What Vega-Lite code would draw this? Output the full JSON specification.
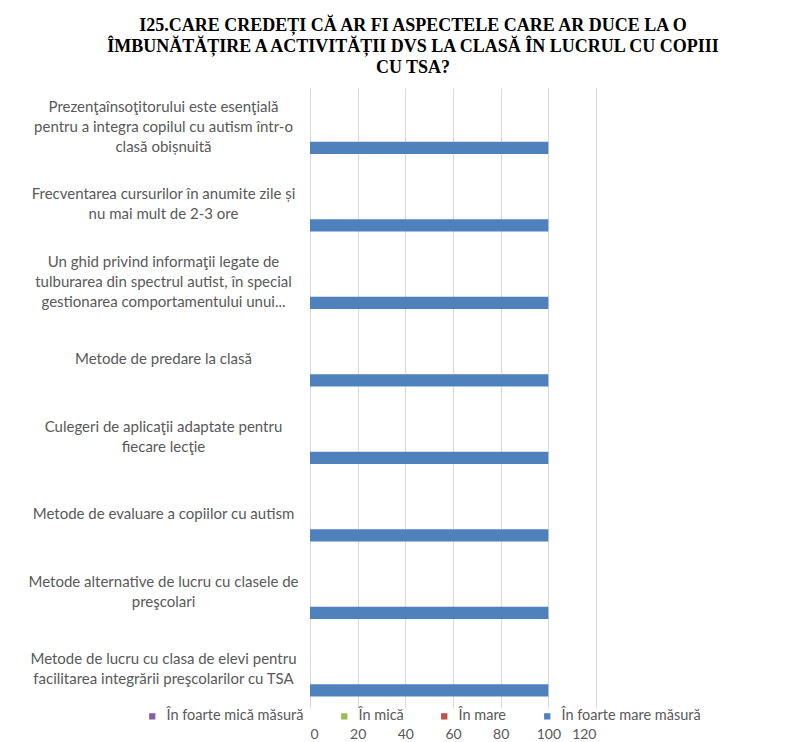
{
  "$schema": "https://vega.github.io/schema/vega-lite/v6.json",
  "width": 286,
  "height": 620,
  "autosize": {"type": "none"},
  "padding": {"left": 310, "top": 88, "right": 202, "bottom": 34},
  "background": "white",
  "title": {
    "text": ["I25.CARE CREDEȚI CĂ AR FI ASPECTELE CARE AR DUCE LA O", "ÎMBUNĂTĂȚIRE A ACTIVITĂȚII DVS LA CLASĂ ÎN LUCRUL CU COPIII", "CU TSA?"],
    "font": "Liberation Serif",
    "fontSize": 18,
    "fontWeight": "bold",
    "color": "#000000",
    "lineHeight": 21,
    "anchor": "middle",
    "frame": "group",
    "dx": -40,
    "offset": 11
  },
  "data": {
    "values": [
      {"aspect": "Prezenţaînsoţitorului este esenţială|pentru a integra  copilul cu autism într-o|clasă obișnuită", "series": "În foarte mică măsură", "value": 0},
      {"aspect": "Prezenţaînsoţitorului este esenţială|pentru a integra  copilul cu autism într-o|clasă obișnuită", "series": "În mică", "value": 0},
      {"aspect": "Prezenţaînsoţitorului este esenţială|pentru a integra  copilul cu autism într-o|clasă obișnuită", "series": "În mare", "value": 0},
      {"aspect": "Prezenţaînsoţitorului este esenţială|pentru a integra  copilul cu autism într-o|clasă obișnuită", "series": "În foarte mare măsură", "value": 100},
      {"aspect": "Frecventarea cursurilor în anumite zile și|nu mai mult de 2-3 ore", "series": "În foarte mică măsură", "value": 0},
      {"aspect": "Frecventarea cursurilor în anumite zile și|nu mai mult de 2-3 ore", "series": "În mică", "value": 0},
      {"aspect": "Frecventarea cursurilor în anumite zile și|nu mai mult de 2-3 ore", "series": "În mare", "value": 0},
      {"aspect": "Frecventarea cursurilor în anumite zile și|nu mai mult de 2-3 ore", "series": "În foarte mare măsură", "value": 100},
      {"aspect": "Un ghid privind informaţii legate de|tulburarea din spectrul autist, în special|gestionarea comportamentului unui...", "series": "În foarte mică măsură", "value": 0},
      {"aspect": "Un ghid privind informaţii legate de|tulburarea din spectrul autist, în special|gestionarea comportamentului unui...", "series": "În mică", "value": 0},
      {"aspect": "Un ghid privind informaţii legate de|tulburarea din spectrul autist, în special|gestionarea comportamentului unui...", "series": "În mare", "value": 0},
      {"aspect": "Un ghid privind informaţii legate de|tulburarea din spectrul autist, în special|gestionarea comportamentului unui...", "series": "În foarte mare măsură", "value": 100},
      {"aspect": "Metode de predare la clasă", "series": "În foarte mică măsură", "value": 0},
      {"aspect": "Metode de predare la clasă", "series": "În mică", "value": 0},
      {"aspect": "Metode de predare la clasă", "series": "În mare", "value": 0},
      {"aspect": "Metode de predare la clasă", "series": "În foarte mare măsură", "value": 100},
      {"aspect": "Culegeri de aplicaţii adaptate pentru|fiecare lecţie", "series": "În foarte mică măsură", "value": 0},
      {"aspect": "Culegeri de aplicaţii adaptate pentru|fiecare lecţie", "series": "În mică", "value": 0},
      {"aspect": "Culegeri de aplicaţii adaptate pentru|fiecare lecţie", "series": "În mare", "value": 0},
      {"aspect": "Culegeri de aplicaţii adaptate pentru|fiecare lecţie", "series": "În foarte mare măsură", "value": 100},
      {"aspect": "Metode de evaluare a copiilor cu autism", "series": "În foarte mică măsură", "value": 0},
      {"aspect": "Metode de evaluare a copiilor cu autism", "series": "În mică", "value": 0},
      {"aspect": "Metode de evaluare a copiilor cu autism", "series": "În mare", "value": 0},
      {"aspect": "Metode de evaluare a copiilor cu autism", "series": "În foarte mare măsură", "value": 100},
      {"aspect": "Metode alternative de lucru cu clasele de|preşcolari", "series": "În foarte mică măsură", "value": 0},
      {"aspect": "Metode alternative de lucru cu clasele de|preşcolari", "series": "În mică", "value": 0},
      {"aspect": "Metode alternative de lucru cu clasele de|preşcolari", "series": "În mare", "value": 0},
      {"aspect": "Metode alternative de lucru cu clasele de|preşcolari", "series": "În foarte mare măsură", "value": 100},
      {"aspect": "Metode de lucru cu clasa de elevi pentru|facilitarea integrării preşcolarilor cu TSA", "series": "În foarte mică măsură", "value": 0},
      {"aspect": "Metode de lucru cu clasa de elevi pentru|facilitarea integrării preşcolarilor cu TSA", "series": "În mică", "value": 0},
      {"aspect": "Metode de lucru cu clasa de elevi pentru|facilitarea integrării preşcolarilor cu TSA", "series": "În mare", "value": 0},
      {"aspect": "Metode de lucru cu clasa de elevi pentru|facilitarea integrării preşcolarilor cu TSA", "series": "În foarte mare măsură", "value": 100}
    ]
  },
  "mark": {"type": "bar"},
  "encoding": {
    "y": {
      "field": "aspect",
      "type": "nominal",
      "sort": null,
      "scale": {"paddingInner": 0.3, "paddingOuter": 0.15},
      "axis": {
        "title": null,
        "domain": false,
        "ticks": false,
        "labelExpr": "split(datum.value, '|')",
        "labelAlign": "center",
        "labelBaseline": "middle",
        "labelOffset": {"expr": "-10 * (length(split(datum.value, '|')) - 1)"},
        "labelPadding": 147,
        "labelLineHeight": 20,
        "labelLimit": 0,
        "labelFont": "Lato",
        "labelFontSize": 15,
        "labelColor": "#595959"
      }
    },
    "yOffset": {
      "field": "series",
      "type": "nominal",
      "sort": ["În foarte mică măsură", "În mică", "În mare", "În foarte mare măsură"],
      "scale": {"paddingInner": 0, "paddingOuter": 0.26, "align": 1}
    },
    "x": {
      "field": "value",
      "type": "quantitative",
      "scale": {"domain": [0, 120], "nice": false},
      "axis": {
        "title": null,
        "values": [0, 20, 40, 60, 80, 100, 120],
        "domain": false,
        "ticks": false,
        "grid": true,
        "gridColor": "#d9d9d9",
        "gridWidth": 1,
        "labelPadding": 19,
        "labelFont": "Lato",
        "labelFontSize": 14,
        "labelColor": "#595959"
      }
    },
    "color": {
      "field": "series",
      "type": "nominal",
      "sort": ["În foarte mică măsură", "În mică", "În mare", "În foarte mare măsură"],
      "scale": {
        "domain": ["În foarte mică măsură", "În mică", "În mare", "În foarte mare măsură"],
        "range": ["#8064A2", "#9BBB59", "#C0504D", "#4F81BD"]
      },
      "legend": {
        "title": null,
        "orient": "none",
        "direction": "horizontal",
        "columns": 4,
        "legendX": -165,
        "legendY": 621,
        "padding": 0,
        "columnPadding": 33,
        "gridAlign": "each",
        "symbolType": "square",
        "symbolSize": 40,
        "symbolStrokeWidth": 0,
        "labelOffset": 7,
        "labelFont": "Lato",
        "labelFontSize": 14.5,
        "labelColor": "#595959"
      }
    }
  },
  "config": {
    "view": {"stroke": null}
  }
}
